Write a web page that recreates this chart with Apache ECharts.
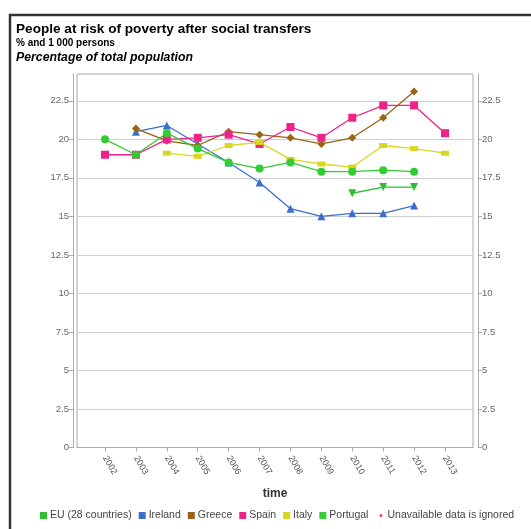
<!DOCTYPE html>
<html><head><meta charset="utf-8">
<script src="https://cdn.jsdelivr.net/npm/echarts@6/dist/echarts.min.js"></script>
<style>html,body{margin:0;padding:0;background:#fff}#c{width:531px;height:529px}</style>
</head><body><div id="c"></div>
<script>
const years = [2002, 2003, 2004, 2005, 2006, 2007, 2008, 2009, 2010, 2011, 2012, 2013];
const eu28     = [null, null, null, null, null, null, null, null, 16.5, 16.9, 16.9, null];
const ireland  = [null, 20.5, 20.9, 19.7, 18.5, 17.2, 15.5, 15.0, 15.2, 15.2, 15.7, null];
const greece   = [null, 20.7, 19.9, 19.6, 20.5, 20.3, 20.1, 19.7, 20.1, 21.4, 23.1, null];
const spain    = [19.0, 19.0, 20.0, 20.1, 20.3, 19.7, 20.8, 20.1, 21.4, 22.2, 22.2, 20.4];
const italy    = [null, null, 19.1, 18.9, 19.6, 19.8, 18.7, 18.4, 18.2, 19.6, 19.4, 19.1];
const portugal = [20.0, 19.0, 20.4, 19.4, 18.5, 18.1, 18.5, 17.9, 17.9, 18.0, 17.9, null];
const seriesNames = ['EU (28 countries)', 'Ireland', 'Greece', 'Spain', 'Italy', 'Portugal'];
const noteText = 'Unavailable data is ignored';

function pairs(arr) { return years.map((y, i) => [y, arr[i]]).filter(p => p[1] != null); }

const FONT = 'Liberation Sans, Arial, sans-serif';
const chart = echarts.init(document.getElementById('c'));

function mk(name, arr, color, symbol, size, extra) {
  return Object.assign({
    name, type: 'line', data: pairs(arr), symbol, symbolSize: size,
    showAllSymbol: true,
    itemStyle: { color }, lineStyle: { color, width: 1.3 },
    emphasis: { disabled: true }, yAxisIndex: 0, z: 3
  }, extra || {});
}

const yAxisBase = {
  type: 'value', min: 0, max: 24.24, interval: 2.5,
  axisLine: { show: true, lineStyle: { color: '#aaa' } },
  axisTick: { show: true, length: 4, lineStyle: { color: '#aaa' } },
  axisLabel: { color: '#666', fontSize: 9.5, fontFamily: FONT, margin: 4, showMaxLabel: false },
};

chart.setOption({
  animation: false,
  textStyle: { fontFamily: FONT },
  title: [
    { text: 'People at risk of poverty after social transfers', left: 16, top: 22, padding: 0,
      textStyle: { fontSize: 13.6, fontWeight: 'bold', color: '#000', fontFamily: FONT } },
    { text: '% and 1 000 persons', left: 16, top: 38.5, padding: 0,
      textStyle: { fontSize: 10, fontWeight: 'bold', color: '#000', fontFamily: FONT } },
    { text: 'Percentage of total population', left: 16, top: 52, padding: 0,
      textStyle: { fontSize: 12.3, fontWeight: 'bold', fontStyle: 'italic', color: '#000', fontFamily: FONT } }
  ],
  graphic: [
    { type: 'rect', shape: { x: 10, y: 15, width: 700, height: 700 },
      style: { fill: 'none', stroke: '#333', lineWidth: 2.5 }, silent: true, z: 100 }
  ],
  grid: { left: 77, right: 58, top: 74, bottom: 81.5, show: true, borderColor: '#aaa', borderWidth: 1 },
  legend: {
    left: 40, top: 510, padding: 0, itemWidth: 7, itemHeight: 7, itemGap: 7,
    icon: 'rect',
    textStyle: { fontSize: 10.5, color: '#444', fontFamily: FONT, padding: [0, 0, 0, -2] },
    data: seriesNames.concat([{ name: noteText, icon: 'circle',
      itemStyle: { color: '#ff3366', borderColor: '#fff', borderWidth: 4 } }])
  },
  xAxis: {
    type: 'value', min: 2001.094, max: 2013.906, minInterval: 1, maxInterval: 1, splitNumber: 12,
    offset: 3,
    name: 'time', nameLocation: 'middle', nameGap: 37,
    nameTextStyle: { fontSize: 12, fontWeight: 'bold', color: '#333', fontFamily: FONT },
    axisLine: { show: true, lineStyle: { color: '#aaa' } },
    axisTick: { show: true, length: 4, lineStyle: { color: '#aaa' } },
    splitLine: { show: false },
    axisLabel: { rotate: -60, fontSize: 9, color: '#555', margin: 6, fontFamily: FONT,
      showMinLabel: false, showMaxLabel: false,
      formatter: v => (Math.abs(v - Math.round(v)) < 1e-6 ? String(Math.round(v)) : '') }
  },
  yAxis: [
    Object.assign({}, yAxisBase, { position: 'left', offset: 4,
      splitLine: { show: true, lineStyle: { color: '#cfcfcf', width: 1 } } }),
    Object.assign({}, yAxisBase, { position: 'right', offset: 5, splitLine: { show: false } })
  ],
  series: [
    mk('EU (28 countries)', eu28, '#2fbf2f', 'triangle', 8, { symbolRotate: 180 }),
    mk('Ireland', ireland, '#3a6fd0', 'triangle', 8),
    mk('Greece', greece, '#9a6414', 'diamond', 8),
    mk('Spain', spain, '#f0218a', 'rect', 8),
    mk('Italy', italy, '#d8d820', 'rect', [8, 5]),
    mk('Portugal', portugal, '#33cc33', 'circle', 8),
    { name: noteText, type: 'line', data: [], itemStyle: { color: '#ff3366' } }
  ]
});
</script>
</body></html>
